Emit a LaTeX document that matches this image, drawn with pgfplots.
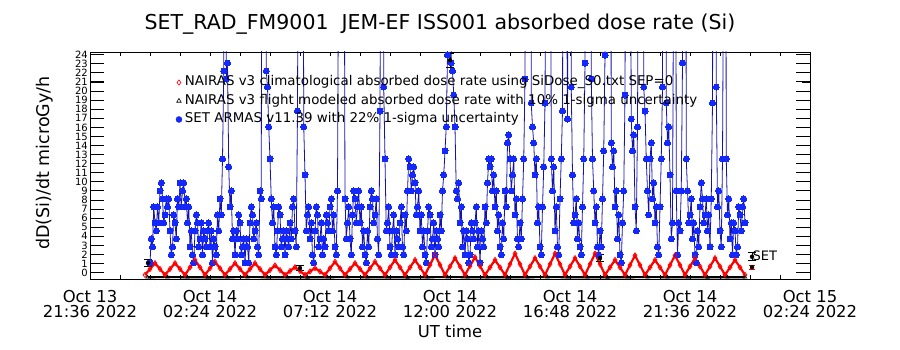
\documentclass[border=0pt]{standalone}
\usepackage{fontspec}
\setmainfont{DejaVu Sans}
\usepackage{pgfplots}
\pgfplotsset{compat=1.18}
\pgfplotsset{onemark/.style={legend image code/.code={\draw[##1] plot coordinates {(0pt,0pt)};}}}
\definecolor{blueDot}{RGB}{20,40,250}
\definecolor{blueLine}{RGB}{20,20,170}
\begin{document}
\begin{tikzpicture}[x=1pt,y=1pt]
\path[use as bounding box] (0,0) rectangle (900,350);
\begin{axis}[
  at={(90pt,71pt)}, anchor=south west,
  scale only axis, width=720pt, height=227pt,
  xmin=0, xmax=28.8, ymin=-0.7, ymax=24.3,
  xtick={0,4.8,9.6,14.4,19.2,24,28.8},
  xticklabels={{Oct 13\\21:36 2022},{Oct 14\\02:24 2022},{Oct 14\\07:12 2022},{Oct 14\\12:00 2022},{Oct 14\\16:48 2022},{Oct 14\\21:36 2022},{Oct 15\\02:24 2022}},
  minor xtick={0,1.2,...,28.8},
  ytick={0,1,...,24},
  tick align=inside,
  major tick length=14pt, minor tick length=4pt,
  major x tick style={draw=none},
  minor x tick style={draw=black, line width=0.7pt},
  ytick style={draw=black, line width=1pt},
  axis line style={line width=0.8pt},
  /pgf/number format/assume math mode=true,
  yticklabel style={font=\fontsize{10}{10}\selectfont, inner sep=0pt, xshift=-2pt},
  xticklabel style={font=\fontsize{16.4}{15}\selectfont, align=center, inner sep=0pt, yshift=-11pt},
  legend style={at={(axis description cs:0.1194,0.8987)}, anchor=north west, draw=none, fill=none, inner sep=0pt, outer sep=0pt, row sep=3.5pt, font=\fontsize{13.4}{13.4}\selectfont, nodes={inner xsep=3pt, inner ysep=1pt, text height=10pt, text depth=3pt}},
  legend cell align=left,
]
% SET ARMAS
\addplot[forget plot, color=blueLine, line width=0.8pt, mark=*, mark size=3pt, mark options={fill=blueDot, draw=blueDot, line width=0pt}] table {
x y
2.4 1.08
2.45 3.72
2.5 2.84
2.55 7.24
2.6 5.48
2.65 4.60
2.7 7.24
2.75 5.48
2.8 9.00
2.85 9.88
2.9 8.12
2.95 5.48
3.0 6.36
3.05 8.12
3.1 7.24
3.15 8.12
3.2 4.60
3.25 1.96
3.3 2.84
3.35 6.36
3.4 5.48
3.45 3.72
3.5 8.12
3.55 7.24
3.6 9.88
3.65 7.24
3.7 9.00
3.75 9.88
3.8 7.24
3.85 8.12
3.9 5.48
3.95 7.24
4.0 2.84
4.05 4.60
4.1 1.96
4.15 1.08
4.2 4.60
4.25 6.36
4.3 5.48
4.35 2.84
4.4 3.72
4.45 5.48
4.5 1.96
4.55 4.60
4.6 3.72
4.65 2.84
4.7 4.60
4.75 5.48
4.8 2.84
4.85 4.60
4.9 1.08
4.95 3.72
5.0 2.84
5.05 1.96
5.1 6.36
5.15 4.60
5.2 8.12
5.25 6.36
5.3 12.52
5.35 22.20
5.4 80
5.45 21.32
5.5 23.08
5.55 11.64
5.6 7.24
5.65 9.00
5.7 3.72
5.75 4.60
5.8 1.96
5.85 4.60
5.9 3.72
5.95 6.36
6.0 5.48
6.05 1.96
6.1 2.84
6.15 3.72
6.2 1.08
6.25 3.72
6.3 2.84
6.35 1.08
6.4 5.48
6.45 7.24
6.5 6.36
6.55 3.72
6.6 4.60
6.65 5.48
6.7 2.84
6.75 1.96
6.8 9.00
6.85 8.12
6.9 100
6.95 140
7.0 90
7.05 22.20
7.1 20.44
7.15 16.04
7.2 12.52
7.25 8.12
7.3 5.48
7.35 7.24
7.4 2.84
7.45 1.96
7.5 4.60
7.55 7.24
7.6 6.36
7.65 2.84
7.7 3.72
7.75 4.60
7.8 1.96
7.85 4.60
7.9 3.72
7.95 2.84
8.0 5.48
8.05 3.72
8.1 7.24
8.15 8.12
8.2 4.60
8.25 2.84
8.3 17.80
8.35 60
8.4 120
8.45 150
8.5 70
8.55 16.04
8.6 10.76
8.65 4.60
8.7 6.36
8.75 7.24
8.8 3.72
8.85 5.48
8.9 1.96
8.95 1.08
9.0 4.60
9.05 7.24
9.1 6.36
9.15 2.84
9.2 3.72
9.25 5.48
9.3 1.96
9.35 3.72
9.4 2.84
9.45 6.36
9.5 5.48
9.55 4.60
9.6 7.24
9.65 8.12
9.7 4.60
9.75 6.36
9.8 2.84
9.85 1.96
9.9 9.00
9.95 40
10.0 110
10.05 130
10.1 150
10.15 60
10.2 8.12
10.25 3.72
10.3 5.48
10.35 7.24
10.4 3.72
10.45 1.96
10.5 6.36
10.55 9.00
10.6 8.12
10.65 5.48
10.7 7.24
10.75 9.00
10.8 5.48
10.85 7.24
10.9 2.84
10.95 4.60
11.0 1.96
11.05 1.08
11.1 4.60
11.15 2.84
11.2 7.24
11.25 9.00
11.3 8.12
11.35 5.48
11.4 6.36
11.45 8.12
11.5 3.72
11.55 1.96
11.6 17.80
11.65 60
11.7 120
11.75 20.44
11.8 12.52
11.85 4.60
11.9 5.48
11.95 7.24
12.0 2.84
12.05 1.96
12.1 4.60
12.15 6.36
12.2 1.96
12.25 4.60
12.3 3.72
12.35 2.84
12.4 5.48
12.45 7.24
12.5 2.84
12.55 1.96
12.6 6.36
12.65 4.60
12.7 9.00
12.75 12.52
12.8 11.64
12.85 9.00
12.9 10.76
12.95 11.64
13.0 9.88
13.05 6.36
13.1 7.24
13.15 9.00
13.2 4.60
13.25 6.36
13.3 2.84
13.35 4.60
13.4 1.96
13.45 1.08
13.5 4.60
13.55 7.24
13.6 6.36
13.65 2.84
13.7 3.72
13.75 5.48
13.8 1.96
13.85 4.60
13.9 3.72
13.95 2.84
14.0 6.36
14.05 4.60
14.1 9.00
14.15 10.76
14.2 13.40
14.25 16.04
14.3 23.96
14.35 60
14.4 200
14.45 23.08
14.5 22.20
14.55 19.56
14.6 16.04
14.65 9.00
14.7 8.12
14.75 9.88
14.8 5.48
14.85 7.24
14.9 2.84
14.95 4.60
15.0 1.96
15.05 4.60
15.1 3.72
15.15 1.08
15.2 1.96
15.25 5.48
15.3 4.60
15.35 3.72
15.4 5.48
15.45 7.24
15.5 2.84
15.55 4.60
15.6 1.08
15.65 4.60
15.7 3.72
15.75 2.84
15.8 7.24
15.85 5.48
15.9 9.88
15.95 12.52
16.0 11.64
16.05 12.52
16.1 9.00
16.15 10.76
16.2 7.24
16.25 9.00
16.3 4.60
16.35 6.36
16.4 2.84
16.45 1.96
16.5 5.48
16.55 3.72
16.6 9.00
16.65 7.24
16.7 14.28
16.75 15.16
16.8 12.52
16.85 9.00
16.9 10.76
16.95 12.52
17.0 6.36
17.05 8.12
17.1 3.72
17.15 2.84
17.2 5.48
17.25 3.72
17.3 8.12
17.35 12.52
17.4 21.32
17.45 60
17.5 150
17.55 130
17.6 90
17.65 18.68
17.7 16.04
17.75 14.28
17.8 10.76
17.85 12.52
17.9 5.48
17.95 7.24
18.0 2.84
18.05 1.96
18.1 7.24
18.15 11.64
18.2 18.68
18.25 50
18.3 130
18.35 120
18.4 80
18.45 12.52
18.5 9.00
18.55 11.64
18.6 4.60
18.65 7.24
18.7 2.84
18.75 1.96
18.8 8.12
18.85 12.52
18.9 17.80
18.95 70
19.0 160
19.05 40
19.1 16.92
19.15 50
19.2 100
19.25 20.44
19.3 10.76
19.35 5.48
19.4 6.36
19.45 8.12
19.5 3.72
19.55 5.48
19.6 2.84
19.65 1.96
19.7 7.24
19.75 12.52
19.8 23.08
19.85 60
19.9 140
19.95 130
20.0 120
20.05 21.32
20.1 12.52
20.15 9.00
20.2 5.48
20.25 7.24
20.3 2.84
20.35 1.96
20.4 4.60
20.45 2.84
20.5 8.12
20.55 13.40
20.6 23.96
20.65 90
20.7 180
20.75 150
20.8 100
20.85 14.28
20.9 11.64
20.95 13.40
21.0 7.24
21.05 9.00
21.1 3.72
21.15 6.36
21.2 1.96
21.25 1.08
21.3 5.48
21.35 9.00
21.4 19.56
21.45 70
21.5 150
21.55 100
21.6 60
21.65 16.92
21.7 13.40
21.75 15.16
21.8 7.24
21.85 4.60
21.9 16.04
21.95 50
22.0 130
22.05 160
22.1 170
22.15 20.44
22.2 17.80
22.25 12.52
22.3 9.00
22.35 6.36
22.4 12.52
22.45 14.28
22.5 8.12
22.55 9.88
22.6 5.48
22.65 7.24
22.7 2.84
22.75 1.96
22.8 7.24
22.85 12.52
22.9 20.44
22.95 80
23.0 140
23.05 18.68
23.1 14.28
23.15 16.04
23.2 10.76
23.25 3.72
23.3 5.48
23.35 40
23.4 110
23.45 9.00
23.5 1.96
23.55 5.48
23.6 4.60
23.65 9.00
23.7 23.08
23.75 80
23.8 120
23.85 12.52
23.9 9.00
23.95 5.48
24.0 6.36
24.05 8.12
24.1 3.72
24.15 5.48
24.2 1.96
24.25 1.08
24.3 4.60
24.35 2.84
24.4 7.24
24.45 9.88
24.5 8.12
24.55 5.48
24.6 6.36
24.65 8.12
24.7 4.60
24.75 6.36
24.8 2.84
24.85 8.12
24.9 18.68
24.95 70
25.0 150
25.05 20.44
25.1 7.24
25.15 9.00
25.2 4.60
25.25 2.84
25.3 12.52
25.35 40
25.4 100
25.45 12.52
25.5 6.36
25.55 8.12
25.6 3.72
25.65 5.48
25.7 1.96
25.75 5.48
25.8 4.60
25.85 1.96
25.9 2.84
25.95 7.24
26.0 6.36
26.05 4.60
26.1 7.24
26.15 8.12
26.2 5.48
};
% NAIRAS climatological
\addplot[forget plot, color=red, line width=2.2pt, mark=diamond, mark size=2.6pt, mark options={draw=red, fill=red!15, line width=0.7pt}] table {
x y
2.2 -0.25
2.4 0.4
2.6 1.05
2.8 0.4
3.0 -0.25
3.2 0.4
3.4 1.05
3.6 0.4
3.8 -0.25
4.0 0.58
4.2 1.4
4.4 0.58
4.6 -0.25
4.8 0.48
5.0 1.2
5.2 0.48
5.4 -0.25
5.6 0.4
5.8 1.05
6.0 0.4
6.2 -0.25
6.4 0.4
6.6 1.05
6.8 0.4
7.0 -0.25
7.2 0.28
7.4 0.8
7.6 0.28
7.8 -0.25
8.0 0.18
8.2 0.6
8.4 0.18
8.6 -0.25
8.8 0.13
9.0 0.5
9.2 0.13
9.4 -0.25
9.6 0.48
9.8 1.2
10.0 0.48
10.2 -0.25
10.4 0.4
10.6 1.05
10.8 0.4
11.0 -0.25
11.2 0.48
11.4 1.2
11.6 0.48
11.8 -0.25
12.0 0.58
12.2 1.4
12.4 0.58
12.6 -0.25
12.8 0.58
13.0 1.4
13.2 0.58
13.4 -0.25
13.6 0.85
13.8 1.95
14.0 0.85
14.2 -0.25
14.4 0.68
14.6 1.6
14.8 0.68
15.0 -0.25
15.2 0.73
15.4 1.7
15.6 0.73
15.8 -0.25
16.0 0.58
16.2 1.4
16.4 0.58
16.6 -0.25
16.8 0.93
17.0 2.1
17.2 0.93
17.4 -0.25
17.6 0.68
17.8 1.6
18.0 0.68
18.2 -0.25
18.4 0.93
18.6 2.1
18.8 0.93
19.0 -0.25
19.2 0.68
19.4 1.6
19.6 0.68
19.8 -0.25
20.0 0.93
20.2 2.1
20.4 0.93
20.6 -0.25
20.8 0.58
21.0 1.4
21.2 0.58
21.4 -0.25
21.6 0.83
21.8 1.9
22.0 0.83
22.2 -0.25
22.4 0.58
22.6 1.4
22.8 0.58
23.0 -0.25
23.2 0.83
23.4 1.9
23.6 0.83
23.8 -0.25
24.0 0.68
24.2 1.6
24.4 0.68
24.6 -0.25
24.8 0.68
25.0 1.6
25.2 0.68
25.4 -0.25
25.6 0.58
25.8 1.4
26.0 0.58
26.2 -0.25
};
% NAIRAS flight modeled
\addplot[forget plot, color=black, line width=2.2pt, mark=triangle, mark size=2pt, mark options={line width=0.6pt, fill=white}] table {
x y
2.3 -0.5
3.1 -0.49
3.9 -0.5
4.7 -0.51
5.5 -0.5
6.3 -0.49
7.1 -0.5
7.9 -0.5
8.7 -0.51
9.5 -0.5
10.3 -0.49
11.1 -0.5
11.9 -0.5
12.7 -0.51
13.5 -0.5
14.3 -0.49
15.1 -0.5
15.9 -0.5
16.7 -0.51
17.5 -0.5
18.3 -0.49
19.1 -0.5
19.9 -0.5
20.7 -0.51
21.5 -0.5
22.3 -0.49
23.1 -0.5
23.9 -0.5
24.7 -0.51
25.5 -0.5
26.2 -0.5
};
% uncertainty bars
\addplot[forget plot, only marks, mark=none, error bars/.cd, y dir=both, y explicit, error bar style={line width=0.8pt, black}, error mark options={rotate=90, mark size=4pt, line width=0.8pt, black}] coordinates {
(2.32,1.06) +- (0,0.4)
(8.4,0.5) +- (0,0.3)
(14.4,23.4) +- (0,0.8)
(20.4,1.6) +- (0,0.4)
(26.48,1.75) +- (0,0.45)
};
\addplot[forget plot, only marks, mark=none, error bars/.cd, y dir=both, y explicit, error bar style={line width=0.8pt, red}, error mark options={rotate=90, mark size=3pt, line width=0.8pt, red}] coordinates {
(26.48,0.6) +- (0,0.25)
};
\node[anchor=base west, inner sep=0pt, font=\fontsize{13}{13}\selectfont] at (axis cs:26.5,1.3) {SET};
\addlegendimage{onemark, only marks, mark=diamond, mark size=2.6pt, red, mark options={line width=0.6pt}}
\addlegendentry{NAIRAS v3 climatological absorbed dose rate using SiDose\_S0.txt SEP=0}
\addlegendimage{onemark, only marks, mark=triangle, mark size=2.6pt, black, mark options={line width=0.6pt}}
\addlegendentry{NAIRAS v3 flight modeled absorbed dose rate with 10\% 1-sigma uncertainty}
\addlegendimage{onemark, only marks, mark=*, mark size=3pt, blueDot}
\addlegendentry{SET ARMAS v11.39 with 22\% 1-sigma uncertainty}
\end{axis}
% y-axis tick marks drawn along the frame (left long, right alternating)
\foreach \v in {0,...,24} {
  \draw[black, line width=0.9pt] (90,{71+(\v+0.7)*9.08}) -- ++(14,0);
}
\foreach \v in {0,2,...,24} {
  \draw[black, line width=0.9pt] (810,{71+(\v+0.7)*9.08}) -- ++(-13,0);
}
\foreach \v in {1,3,...,23} {
  \draw[black, line width=0.9pt] (810,{71+(\v+0.7)*9.08}) -- ++(-8,0);
}
\node[anchor=base, font=\fontsize{20.5}{20.5}\selectfont] at (440,320) {SET\_RAD\_FM9001\ \ JEM-EF ISS001 absorbed dose rate (Si)};
\node[rotate=90, font=\fontsize{17.5}{17.5}\selectfont] at (45,187) {dD(Si)/dt microGy/h};
\node[anchor=base, font=\fontsize{16.4}{16.4}\selectfont] at (450,12) {UT time};
\end{tikzpicture}
\end{document}
